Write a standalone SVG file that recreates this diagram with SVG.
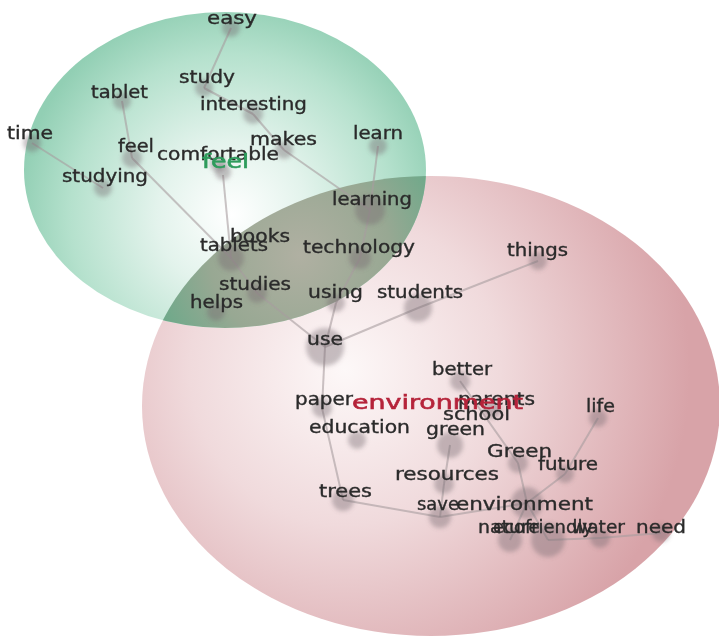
<svg xmlns="http://www.w3.org/2000/svg" width="719" height="637" viewBox="0 0 719 637">
  <defs>
    <radialGradient id="gGreen" gradientUnits="userSpaceOnUse" cx="232" cy="215" r="215" fx="232" fy="215">
      <stop offset="0" stop-color="#ffffff"/>
      <stop offset="0.35" stop-color="#e3f3ec"/>
      <stop offset="0.75" stop-color="#b5e1cd"/>
      <stop offset="1" stop-color="#92cfb4"/>
    </radialGradient>
    <radialGradient id="gRed" gradientUnits="userSpaceOnUse" cx="345" cy="370" r="345" fx="345" fy="370">
      <stop offset="0" stop-color="#fdf8f8"/>
      <stop offset="0.45" stop-color="#f0dadc"/>
      <stop offset="1" stop-color="#d8a3a8"/>
    </radialGradient>
    <radialGradient id="gMix" gradientUnits="userSpaceOnUse" cx="300" cy="255" r="150">
      <stop offset="0" stop-color="#b0b0a2"/>
      <stop offset="0.6" stop-color="#98a893"/>
      <stop offset="1" stop-color="#6fa98a"/>
    </radialGradient>
    <clipPath id="clipGreen">
      <ellipse cx="225" cy="170" rx="201" ry="158"/>
    </clipPath>
    <filter id="soft" x="-20%" y="-20%" width="140%" height="140%">
      <feGaussianBlur stdDeviation="0.6"/>
    </filter>
    <filter id="blob" x="-50%" y="-50%" width="200%" height="200%">
      <feGaussianBlur stdDeviation="2"/>
    </filter>
  </defs>
  <style>
    .w { font-family: "DejaVu Sans", "Liberation Sans", sans-serif; font-size: 17px; fill: #2a2a2a; stroke: #2a2a2a; stroke-width: 0.35; }
    .big { font-size: 20px; stroke-width: 0.6; }
    .hubG { fill: #2e9c5c; stroke: #2e9c5c; }
    .hubR { fill: #b5243a; stroke: #b5243a; }
    .dot { fill: #766a6e; fill-opacity: 0.4; stroke: none; filter: url(#blob); }
    .edge { stroke: #a79c9e; stroke-width: 2; stroke-opacity: 0.6; fill: none; }
  </style>

  <rect width="719" height="637" fill="#ffffff"/>

  <!-- cluster areas -->
  <g id="areas">
    <ellipse id="area-environment" cx="431" cy="406" rx="289" ry="230" fill="url(#gRed)"/>
    <ellipse id="area-feel" cx="225" cy="170" rx="201" ry="158" fill="url(#gGreen)"/>
    <ellipse id="area-overlap" cx="431" cy="406" rx="289" ry="230" fill="url(#gMix)" clip-path="url(#clipGreen)"/>
  </g>

  <!-- connectors -->
  <g id="connectors" filter="url(#soft)">
    <line class="edge" x1="231" y1="28" x2="204" y2="88"/>
    <line class="edge" x1="204" y1="88" x2="253" y2="114"/>
    <line class="edge" x1="253" y1="114" x2="284" y2="150"/>
    <line class="edge" x1="284" y1="150" x2="370" y2="210"/>
    <line class="edge" x1="378" y1="146" x2="370" y2="210"/>
    <line class="edge" x1="122" y1="101" x2="132" y2="158"/>
    <line class="edge" x1="132" y1="158" x2="231" y2="258"/>
    <line class="edge" x1="32" y1="143" x2="103" y2="188"/>
    <line class="edge" x1="223" y1="175" x2="231" y2="258"/>
    <line class="edge" x1="231" y1="258" x2="257" y2="293"/>
    <line class="edge" x1="257" y1="293" x2="325" y2="347"/>
    <line class="edge" x1="370" y1="210" x2="360" y2="258"/>
    <line class="edge" x1="360" y1="258" x2="336" y2="303"/>
    <line class="edge" x1="336" y1="303" x2="325" y2="347"/>
    <line class="edge" x1="325" y1="347" x2="418" y2="308"/>
    <line class="edge" x1="418" y1="308" x2="538" y2="261"/>
    <line class="edge" x1="325" y1="347" x2="322" y2="408"/>
    <line class="edge" x1="322" y1="408" x2="343" y2="500"/>
    <line class="edge" x1="343" y1="500" x2="440" y2="517"/>
    <line class="edge" x1="440" y1="517" x2="444" y2="484"/>
    <line class="edge" x1="444" y1="484" x2="450" y2="445"/>
    <line class="edge" x1="460" y1="381" x2="518" y2="463"/>
    <line class="edge" x1="518" y1="463" x2="527" y2="503"/>
    <line class="edge" x1="598" y1="418" x2="565" y2="474"/>
    <line class="edge" x1="565" y1="474" x2="527" y2="503"/>
    <line class="edge" x1="440" y1="517" x2="527" y2="503"/>
    <line class="edge" x1="527" y1="503" x2="510" y2="540"/>
    <line class="edge" x1="527" y1="503" x2="548" y2="540"/>
    <line class="edge" x1="548" y1="540" x2="600" y2="538"/>
    <line class="edge" x1="600" y1="538" x2="661" y2="533"/>
  </g>

  <!-- word nodes -->
  <g id="nodes" filter="url(#soft)">
    <g id="n-easy"><circle class="dot" cx="231" cy="28" r="9"/><text class="w" x="207" y="24" textLength="50" lengthAdjust="spacingAndGlyphs">easy</text></g>
    <g id="n-study"><circle class="dot" cx="204" cy="88" r="9"/><text class="w" x="179" y="83" textLength="56" lengthAdjust="spacingAndGlyphs">study</text></g>
    <g id="n-tablet"><circle class="dot" cx="122" cy="101" r="9"/><text class="w" x="91" y="98" textLength="57" lengthAdjust="spacingAndGlyphs">tablet</text></g>
    <g id="n-interesting"><circle class="dot" cx="253" cy="114" r="10"/><text class="w" x="200" y="110" textLength="107" lengthAdjust="spacingAndGlyphs">interesting</text></g>
    <g id="n-time"><circle class="dot" cx="32" cy="143" r="9"/><text class="w" x="7" y="139" textLength="46" lengthAdjust="spacingAndGlyphs">time</text></g>
    <g id="n-feel"><circle class="dot" cx="132" cy="158" r="10"/><text class="w" x="118" y="152" textLength="36" lengthAdjust="spacingAndGlyphs">feel</text></g>
    <g id="n-makes"><circle class="dot" cx="284" cy="150" r="9"/><text class="w" x="250" y="145" textLength="67" lengthAdjust="spacingAndGlyphs">makes</text></g>
    <g id="n-comfortable"><circle class="dot" cx="218" cy="164" r="8"/><text class="w" x="157" y="160" textLength="122" lengthAdjust="spacingAndGlyphs">comfortable</text></g>
    <g id="n-learn"><circle class="dot" cx="378" cy="146" r="9"/><text class="w" x="353" y="139" textLength="50" lengthAdjust="spacingAndGlyphs">learn</text></g>
    <g id="n-studying"><circle class="dot" cx="103" cy="188" r="9"/><text class="w" x="62" y="182" textLength="86" lengthAdjust="spacingAndGlyphs">studying</text></g>
    <g id="n-learning"><circle class="dot" cx="370" cy="210" r="15"/><text class="w" x="332" y="205" textLength="80" lengthAdjust="spacingAndGlyphs">learning</text></g>
    <g id="n-tablets"><circle class="dot" cx="231" cy="258" r="13"/><text class="w" x="200" y="251" textLength="68" lengthAdjust="spacingAndGlyphs">tablets</text></g>
    <g id="n-books"><text class="w" x="230" y="242" textLength="60" lengthAdjust="spacingAndGlyphs">books</text></g>
    <g id="n-technology"><circle class="dot" cx="360" cy="258" r="11"/><text class="w" x="303" y="253" textLength="112" lengthAdjust="spacingAndGlyphs">technology</text></g>
    <g id="n-things"><circle class="dot" cx="538" cy="261" r="9"/><text class="w" x="507" y="256" textLength="61" lengthAdjust="spacingAndGlyphs">things</text></g>
    <g id="n-studies"><circle class="dot" cx="257" cy="293" r="10"/><text class="w" x="219" y="290" textLength="72" lengthAdjust="spacingAndGlyphs">studies</text></g>
    <g id="n-helps"><circle class="dot" cx="216" cy="312" r="9"/><text class="w" x="190" y="308" textLength="53" lengthAdjust="spacingAndGlyphs">helps</text></g>
    <g id="n-using"><circle class="dot" cx="336" cy="303" r="9"/><text class="w" x="308" y="298" textLength="55" lengthAdjust="spacingAndGlyphs">using</text></g>
    <g id="n-students"><circle class="dot" cx="418" cy="308" r="14"/><text class="w" x="377" y="298" textLength="86" lengthAdjust="spacingAndGlyphs">students</text></g>
    <g id="n-use"><circle class="dot" cx="325" cy="347" r="19"/><text class="w" x="307" y="345" textLength="36" lengthAdjust="spacingAndGlyphs">use</text></g>
    <g id="n-better"><circle class="dot" cx="460" cy="381" r="10"/><text class="w" x="432" y="375" textLength="60" lengthAdjust="spacingAndGlyphs">better</text></g>
    <g id="n-paper"><circle class="dot" cx="322" cy="408" r="10"/><text class="w" x="295" y="405" textLength="58" lengthAdjust="spacingAndGlyphs">paper</text></g>
    <g id="n-parents"><circle class="dot" cx="492" cy="410" r="9"/><text class="w" x="458" y="405" textLength="77" lengthAdjust="spacingAndGlyphs">parents</text></g>
    <g id="n-school"><text class="w" x="443" y="420" textLength="67" lengthAdjust="spacingAndGlyphs">school</text></g>
    <g id="n-education"><circle class="dot" cx="357" cy="440" r="9"/><text class="w" x="309" y="433" textLength="101" lengthAdjust="spacingAndGlyphs">education</text></g>
    <g id="n-green"><circle class="dot" cx="450" cy="445" r="13"/><text class="w" x="426" y="435" textLength="59" lengthAdjust="spacingAndGlyphs">green</text></g>
    <g id="n-life"><circle class="dot" cx="598" cy="418" r="9"/><text class="w" x="586" y="412" textLength="29" lengthAdjust="spacingAndGlyphs">life</text></g>
    <g id="n-Green"><circle class="dot" cx="518" cy="463" r="10"/><text class="w" x="487" y="457" textLength="65" lengthAdjust="spacingAndGlyphs">Green</text></g>
    <g id="n-future"><circle class="dot" cx="565" cy="474" r="9"/><text class="w" x="538" y="470" textLength="60" lengthAdjust="spacingAndGlyphs">future</text></g>
    <g id="n-resources"><circle class="dot" cx="444" cy="484" r="10"/><text class="w" x="395" y="480" textLength="104" lengthAdjust="spacingAndGlyphs">resources</text></g>
    <g id="n-trees"><circle class="dot" cx="343" cy="500" r="11"/><text class="w" x="319" y="497" textLength="53" lengthAdjust="spacingAndGlyphs">trees</text></g>
    <g id="n-save"><circle class="dot" cx="440" cy="517" r="11"/><text class="w" x="417" y="510" textLength="42" lengthAdjust="spacingAndGlyphs">save</text></g>
    <g id="n-environment-2"><circle class="dot" cx="527" cy="503" r="16"/><text class="w" x="456" y="510" textLength="137" lengthAdjust="spacingAndGlyphs">environment</text></g>
    <g id="n-nature"><circle class="dot" cx="510" cy="540" r="12"/><text class="w" x="478" y="533" textLength="62" lengthAdjust="spacingAndGlyphs">nature</text></g>
    <g id="n-ecofriendly"><circle class="dot" cx="548" cy="540" r="17"/><text class="w" x="493" y="533" textLength="100" lengthAdjust="spacingAndGlyphs">ecofriendly</text></g>
    <g id="n-water"><circle class="dot" cx="600" cy="538" r="10"/><text class="w" x="572" y="533" textLength="53" lengthAdjust="spacingAndGlyphs">water</text></g>
    <g id="n-need"><circle class="dot" cx="661" cy="533" r="9"/><text class="w" x="636" y="533" textLength="50" lengthAdjust="spacingAndGlyphs">need</text></g>
    <!-- cluster hub labels -->
    <g id="hub-feel"><circle class="dot" cx="223" cy="172" r="8"/><text class="w big hubG" x="202" y="168" textLength="47" lengthAdjust="spacingAndGlyphs">feel</text></g>
    <g id="hub-environment"><text class="w big hubR" x="352" y="409" textLength="171" lengthAdjust="spacingAndGlyphs">environment</text></g>
  </g>
</svg>
